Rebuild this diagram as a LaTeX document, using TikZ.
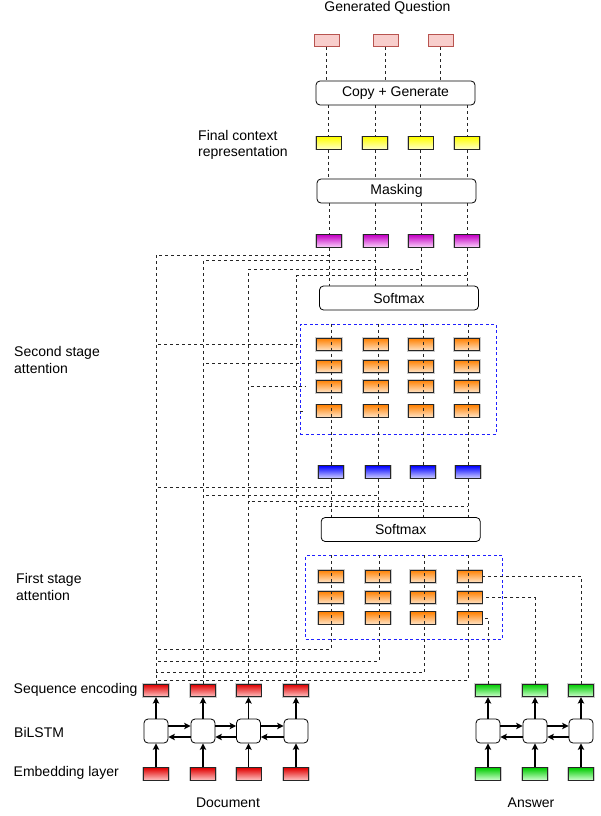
\documentclass[tikz,border=0pt]{standalone}
\usepackage{fontspec}
\setmainfont{Liberation Sans}
\usetikzlibrary{arrows.meta}
\definecolor{rtop}{HTML}{E00000}\definecolor{rbot}{HTML}{FFC4C4}
\definecolor{otop}{HTML}{FF8000}\definecolor{obot}{HTML}{FFE4C8}
\definecolor{mtop}{HTML}{C400C4}\definecolor{mbot}{HTML}{FBD0FB}
\definecolor{btop}{HTML}{0000FF}\definecolor{bbot}{HTML}{D0D0FF}
\definecolor{ytop}{HTML}{FFFF00}\definecolor{ybot}{HTML}{FFFFC8}
\definecolor{gtop}{HTML}{00CC00}\definecolor{gbot}{HTML}{D0FFD0}
\definecolor{pkfill}{HTML}{F8CECC}\definecolor{pkdraw}{HTML}{B85450}
\definecolor{grpblue}{HTML}{2020FF}
\tikzset{
 txt/.style={font=\fontsize{14}{16.5}\selectfont, inner sep=0pt},
 cellbox/.style={draw=black!85, line width=0.8pt, minimum width=25pt, minimum height=12.5pt, inner sep=0pt,
   preaction={draw=black!20, line width=2.4pt}},
 redc/.style={cellbox, top color=rtop, bottom color=rbot},
 orc/.style={cellbox, top color=otop, bottom color=obot},
 mgc/.style={cellbox, top color=mtop, bottom color=mbot},
 blc/.style={cellbox, top color=btop, bottom color=bbot},
 ylc/.style={cellbox, top color=ytop, bottom color=ybot},
 grc/.style={cellbox, top color=gtop, bottom color=gbot},
 pkc/.style={draw=pkdraw, fill=pkfill, line width=0.8pt, minimum width=25pt, minimum height=12.5pt, inner sep=0pt},
 rbox/.style={draw, rounded corners=4pt, line width=0.8pt, minimum width=159pt, minimum height=24pt, fill=white, txt},
 lstm/.style={draw, rounded corners=4pt, line width=0.8pt, minimum width=24pt, minimum height=24pt, inner sep=0pt, fill=white},
 grpbox/.style={draw=grpblue, dash pattern=on 3pt off 2.5pt, line width=1pt, inner sep=0pt},
 dl/.style={draw=black!85, dash pattern=on 3pt off 3pt, line width=0.9pt},
 arr/.style={draw=black, line width=1.2pt, -{Stealth[length=6.5pt,width=6.5pt,inset=1.5pt]}},
}
\begin{document}
\begin{tikzpicture}[x=1pt,y=-1pt]
\useasboundingbox (0,0) rectangle (601,816);
% texts
\node[txt] (tq) at (387.5,8) {Generated Question};
\node[txt, anchor=west, align=left] (tfc) at (198,145) {Final context\\representation};
\node[txt, anchor=west, align=left] (tss) at (14,360) {Second stage\\attention};
\node[txt, anchor=west, align=left] (tfs) at (16,587) {First stage\\attention};
\node[txt, anchor=west] (tse) at (13.5,690) {Sequence encoding};
\node[txt, anchor=west] (tbl) at (14,732) {BiLSTM};
\node[txt, anchor=west] (tel) at (13.5,773) {Embedding layer};
\node[txt] (tdoc) at (228,803) {Document};
\node[txt] (tans) at (531,803) {Answer};
% top column
\node[pkc] (q1) at (326.5,40.5) {};
\node[pkc] (q2) at (385.5,40.5) {};
\node[pkc] (q3) at (440.5,40.5) {};
\node[rbox] (cg) at (395.5,93) {Copy + Generate};
\foreach \i/\x in {1/328.5,2/375,3/420.5,4/467} \node[ylc] (y\i) at (\x,143) {};
\node[rbox] (mk) at (396.5,191) {Masking};
\foreach \i/\x in {1/329,2/375.5,3/421,4/467} \node[mgc] (m\i) at (\x,241) {};
\node[rbox] (sm1) at (399,298) {Softmax};
\node[grpbox, minimum width=196pt, minimum height=110pt] (sg) at (398,379.2) {};
\foreach \r/\yy in {1/344.5,2/366.3,3/386.3,4/411}
  \foreach \c/\x in {1/329,2/375.5,3/421,4/467}
    \node[orc] (s\r\c) at (\x,\yy) {};
\foreach \i/\x in {1/331,2/378,3/423,4/468} \node[blc] (b\i) at (\x,472) {};
\node[rbox] (sm2) at (400.7,529.5) {Softmax};
\node[grpbox, minimum width=196.6pt, minimum height=83.6pt] (fg) at (404,597.5) {};
\foreach \r/\yy in {1/576.3,2/597.5,3/618}
  \foreach \c/\x in {1/331,2/378,3/423,4/469.5}
    \node[orc] (f\r\c) at (\x,\yy) {};
% encoders
\foreach \i/\x in {1/156,2/203,3/248.5,4/296} {
  \node[redc] (d\i) at (\x,690.5) {};
  \node[lstm] (l\i) at (\x,731) {};
  \node[redc] (e\i) at (\x,774) {};
}
\foreach \i/\x in {1/488,2/535,3/581} {
  \node[grc] (a\i) at (\x,690.5) {};
  \node[lstm] (al\i) at (\x,731) {};
  \node[grc] (ae\i) at (\x,774) {};
}
% solid arrows
\foreach \i in {1,2,3,4} {
  \draw[arr] (e\i.north) -- (l\i.south);
  \draw[arr] (l\i.north) -- (d\i.south);
}
\foreach \i in {1,2,3} {
  \draw[arr] (ae\i.north) -- (al\i.south);
  \draw[arr] (al\i.north) -- (a\i.south);
}
\foreach \i/\j in {1/2,2/3,3/4} {
  \draw[arr] ([yshift=5pt]l\i.east) -- ([yshift=5pt]l\j.west);
  \draw[arr] ([yshift=-6pt]l\j.west) -- ([yshift=-6pt]l\i.east);
}
\foreach \i/\j in {1/2,2/3} {
  \draw[arr] ([yshift=5pt]al\i.east) -- ([yshift=5pt]al\j.west);
  \draw[arr] ([yshift=-6pt]al\j.west) -- ([yshift=-6pt]al\i.east);
}
% dashed column lines
\foreach \i in {1,2,3} \draw[dl] (q\i.south) -- (q\i.south |- cg.north);
\foreach \i in {1,2,3,4} {
  \draw[dl] (y\i.north |- cg.south) -- (y\i.north);
  \draw[dl] (y\i.south) -- (y\i.south |- mk.north);
  \draw[dl] (m\i.north |- mk.south) -- (m\i.north);
  \draw[dl] (m\i.south) -- (m\i.south |- sm1.north);
  \draw[dl] (sg.north -| b\i.north) -- (b\i.north);
  \draw[dl] (b\i.south) -- (b\i.south |- sm2.north);
}
% document to softmax 1
\coordinate (h1) at (329,255);
\coordinate (h2) at (375.5,260.7);
\coordinate (h3) at (421,269.3);
\coordinate (h4) at (467,275.7);
% document to second stage rows
\coordinate (r1) at (298,344);
\coordinate (r2) at (301,363);
\coordinate (r3) at (305,386);
\coordinate (r4) at (305,411.5);
% document to softmax 2
\coordinate (k1) at (331,487.7);
\coordinate (k2) at (378,495);
\coordinate (k3) at (423,501);
\coordinate (k4) at (468,506.7);
\foreach \i in {1,2,3,4} {
  \draw[dl] (d\i.north) |- (h\i);
  \draw[dl] (d\i.north) |- (r\i);
  \draw[dl] (d\i.north) |- (k\i);
}
% first stage
\coordinate (c1) at (331,649);
\coordinate (c2) at (379,661);
\coordinate (c3) at (424.5,672.3);
\coordinate (c4) at (468.5,680);
\foreach \i in {1,2,3,4}
  \draw[dl] (fg.north -| c\i) -- (c\i) -- (c\i -| d1.north);
\draw[dl] (a1.north) |- (f34.east);
\draw[dl] (a2.north) |- (f24.east);
\draw[dl] (a3.north) |- (f14.east);
\end{tikzpicture}
\end{document}
